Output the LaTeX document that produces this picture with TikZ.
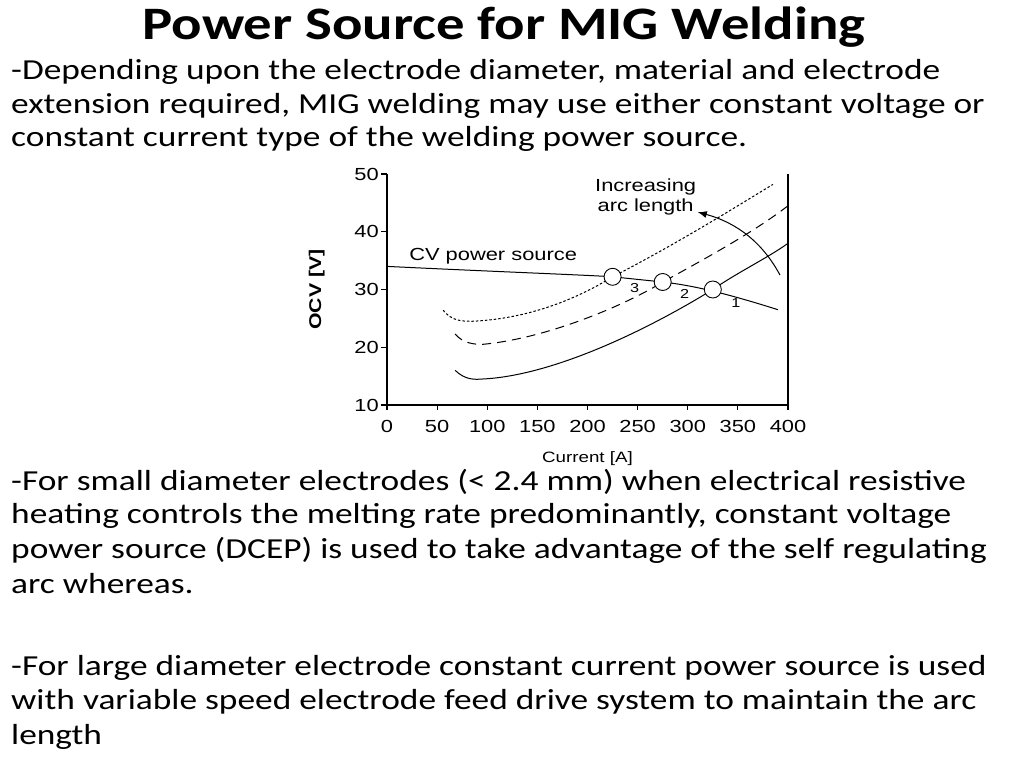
\documentclass[tikz,border=0pt]{standalone}
\usepackage{fontspec}
\usetikzlibrary{arrows.meta}
\setmainfont{Carlito}[FakeStretch=1.22]
\newfontfamily\arial{Liberation Sans}[FakeStretch=1.25]
\begin{document}
\begin{tikzpicture}[x=1pt,y=-1pt,
  body/.style={anchor=west,inner sep=0pt,font=\fontsize{29}{34}\selectfont},
  tick/.style={font=\arial\fontsize{17.5}{17.5}\selectfont,inner sep=1pt},
  pt/.style={circle,draw,fill=white,minimum size=17pt,inner sep=0pt,line width=0.9pt},
  crv/.style={line width=1pt}]
\useasboundingbox (0,0) rectangle (1024,768);
\node[inner sep=0pt,font=\bfseries\fontsize{46.5}{50}\selectfont] (title) at (504,27) {Power Source for MIG Welding};
\node[body] (l1) at (11,72) {-Depending upon the electrode diameter, material and electrode};
\node[body] (l2) at (11,106) {extension required, MIG welding may use either constant voltage or};
\node[body] (l3) at (11,139) {constant current type of the welding power source.};
\node[body] (l4) at (11,482) {-For small diameter electrodes (< 2.4 mm) when electrical resistive};
\node[body] (l5) at (11,516) {heating controls the melting rate predominantly, constant voltage};
\node[body] (l6) at (11,550) {power source (DCEP) is used to take advantage of the self regulating};
\node[body] (l7) at (11,584) {arc whereas.};
\node[body] (l8) at (11,668) {-For large diameter electrode constant current power source is used};
\node[body] (l9) at (11,702) {with variable speed electrode feed drive system to maintain the arc};
\node[body] (l10) at (11,737) {length};
\begin{scope}[shift={(387,405)},x=1.0025pt,y=5.775pt]
\draw[line width=1.6pt] (0,40) -- (0,0) -- (400,0);
\draw[line width=1.2pt] (400,0) -- (400,40);
\foreach \v in {0,10,20,30,40} {
  \draw[line width=1.2pt] (0,\v) -- (-6,\v);
  \pgfmathtruncatemacro\lab{\v+10}
  \node[tick,anchor=east] (y\v) at (-7,\v) {\lab};}
\foreach \a in {0,50,...,400} {
  \draw[line width=1.2pt] (\a,0) -- (\a,-0.8);
  \node[tick,anchor=north] (x\a) at (\a,-2.4) {\a};}
\node[tick,anchor=north,font=\arial\fontsize{15}{15}\selectfont] (xl) at (200,-7.8) {Current [A]};
\node[tick,rotate=90,font=\arial\bfseries\fontsize{17}{17}\selectfont] (yl) at (-70,20) {OCV [V]};
% curves
\draw[crv] (68,6) .. controls (78,4.3) and (88,4.4) .. (95,4.5) .. controls (160,5) and (250,12) .. (325,20) .. controls (350,23) and (380,25.5) .. (400,28);
\draw[crv,dash pattern=on 9pt off 6pt] (68,12.3) .. controls (76,10.6) and (88,10.5) .. (95,10.5) .. controls (160,11.5) and (240,17.5) .. (275,21.3) .. controls (330,26.5) and (370,30.5) .. (400,34.5);
\draw[crv,dash pattern=on 2.5pt off 2pt] (56,16.4) .. controls (65,14.5) and (75,14.5) .. (85,14.5) .. controls (150,15) and (200,19.5) .. (225,22.2) .. controls (290,28) and (345,34) .. (385,38.2);
\draw[crv] (0,24) .. controls (120,23) and (200,22.5) .. (225,22.2) -- (275,21.3) .. controls (300,20.8) and (330,19.8) .. (390,16.5);
\node[pt] (p3) at (225,22.2) {};
\node[pt] (p2) at (275,21.3) {};
\node[pt] (p1) at (325,20) {};
\node[tick,font=\arial\fontsize{13}{13}\selectfont] (n3) at (247,20.3) {3};
\node[tick,font=\arial\fontsize{13}{13}\selectfont] (n2) at (297,19.2) {2};
\node[tick,font=\arial\fontsize{13}{13}\selectfont] (n1) at (348,17.6) {1};
\node[tick,anchor=west] (cv) at (21,25.8) {CV power source};
\node[tick,align=center,font=\arial\fontsize{17.5}{20}\selectfont] (inc) at (258,36) {Increasing\\arc length};
\coordinate (as) at (392,22.5);
\coordinate (ae) at (310,33.4);
\draw[line width=1pt,-{Latex[length=9pt,width=7pt]}] (as) .. controls (375,28) and (350,31.5) .. (ae);
\end{scope}
\end{tikzpicture}
\end{document}
